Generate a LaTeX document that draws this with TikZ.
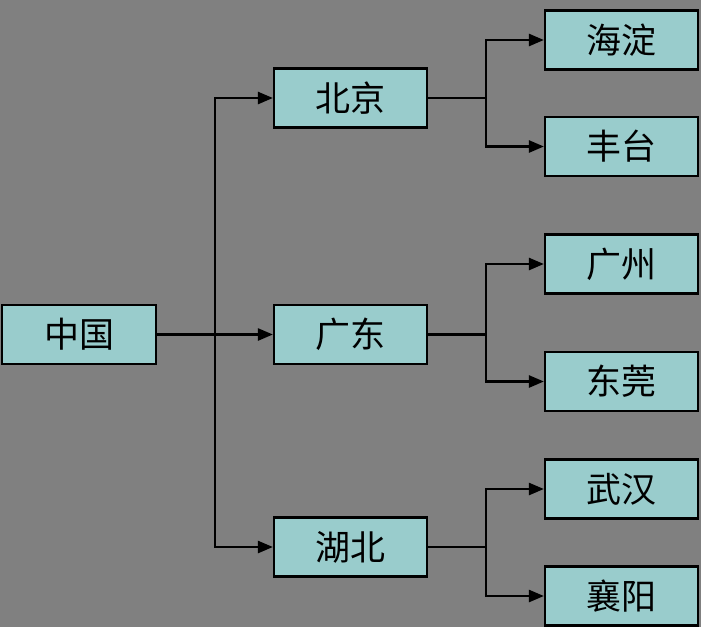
\documentclass[tikz,border=0pt]{standalone}
\usepackage{fontspec}
\newfontfamily\cjk{Noto Sans CJK SC}
\usetikzlibrary{arrows.meta}
\begin{document}
\begin{tikzpicture}[x=1pt,y=-1pt,
  box/.style={draw=black,line width=2.2pt,fill=boxfill,minimum width=153pt,minimum height=59pt,inner sep=0pt,font=\cjk\fontsize{35}{38}\selectfont},
  link/.style={draw=black,line width=2.5pt},
  arr/.style={link,-{Triangle[length=15pt,width=12pt]}}]
\definecolor{boxfill}{HTML}{99CCCC}
\definecolor{bg}{HTML}{808080}
\fill[bg] (0,0) rectangle (701,627);
\useasboundingbox (0,0) rectangle (701,627);
\node[box,minimum width=154pt] (zg) at (79,334.5) {中国};
\node[box] (bj) at (350.5,98) {北京};
\node[box] (gd) at (350.5,334.5) {广东};
\node[box] (hb) at (350.5,547) {湖北};
\node[box] (hd) at (621.5,40) {海淀};
\node[box] (ft) at (621.5,146.5) {丰台};
\node[box] (gz) at (621.5,264) {广州};
\node[box] (dg) at (621.5,381.5) {东莞};
\node[box] (wh) at (621.5,489) {武汉};
\node[box] (xy) at (621.5,596) {襄阳};
\coordinate (t0) at (215,334.5);
\draw[link] (zg.east) -- (t0);
\draw[arr] (t0) |- (bj.west);
\draw[arr] (t0) -- (gd.west);
\draw[arr] (t0) |- (hb.west);
\foreach \p/\a/\b in {bj/hd/ft,gd/gz/dg,hb/wh/xy}{
  \coordinate (f\p) at (486,0 |- \p.east);
  \draw[link] (\p.east) -- (f\p);
  \draw[arr] (f\p) |- (\a.west);
  \draw[arr] (f\p) |- (\b.west);
}
\end{tikzpicture}
\end{document}
